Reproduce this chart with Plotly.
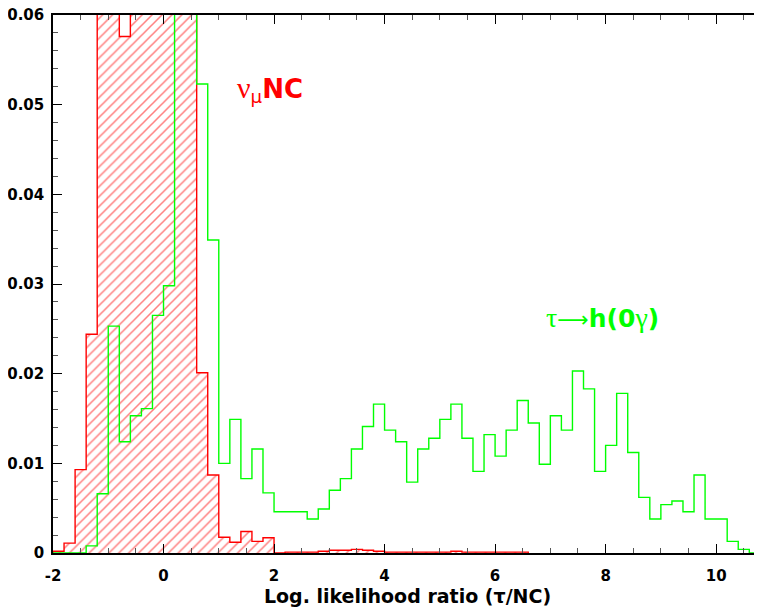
import numpy as np
import plotly.graph_objects as go

# ---- data (bin width 0.2, first bin starts at -2.0) ----
BIN_START = -2.0
BIN_WIDTH = 0.2

nc_values = [
    0.0002, 0.0011, 0.0093, 0.0244, 0.078, 0.096, 0.0576, 0.108, 0.125, 0.134,
    0.118, 0.101, 0.083, 0.0201, 0.0087, 0.00175, 0.0012, 0.0024, 0.0013, 0.0017,
    0.0000, 0.0001, 0.0001, 0.0001, 0.0002, 0.0003, 0.0003, 0.0004, 0.0003, 0.0002,
    0.0001, 0.0001, 0.0001, 0.0001, 0.0001, 0.0001, 0.0002, 0.0001, 0.0001, 0.0001,
    0.0001, 0.0001, 0.0001,
]

tau_values = [
    0.0, 0.0, 0.0, 0.0008, 0.0066, 0.0253, 0.0124, 0.0153, 0.0161, 0.0265,
    0.0298, 0.088, 0.075, 0.0523, 0.0349, 0.0100, 0.0149, 0.0083, 0.0116, 0.0067,
    0.0046, 0.0046, 0.0046, 0.0038, 0.0049, 0.0070, 0.0083, 0.0116, 0.0141, 0.0166,
    0.0137, 0.0124, 0.0079, 0.0116, 0.0128, 0.0149, 0.0166, 0.0128, 0.0091, 0.0132,
    0.0108, 0.0137, 0.0170, 0.0145, 0.0099, 0.0153, 0.0137, 0.0203, 0.0183, 0.0091,
    0.0120, 0.0178, 0.0112, 0.0062, 0.0038, 0.0054, 0.0058, 0.0046, 0.0087, 0.0038,
    0.0038, 0.0013, 0.0004, 0.0,
]

x_ticks = [-2, 0, 2, 4, 6, 8, 10]
y_ticks = [0, 0.01, 0.02, 0.03, 0.04, 0.05, 0.06]
y_tick_labels = ["0", "0.01", "0.02", "0.03", "0.04", "0.05", "0.06"]

RED = "#ff0000"
GREEN = "#00ff00"
FONT = "DejaVu Sans"
SERIF = "font-family:Liberation Serif;font-weight:normal"


def step_xy(vals):
    e = BIN_START + BIN_WIDTH * np.arange(len(vals) + 1)
    xs = [e[0]] + list(e[:-1]) + [e[-1], e[-1]]
    ys = [0.0] + list(vals) + [vals[-1], 0.0]
    return xs, ys


fig = go.Figure()

nx, ny = step_xy(nc_values)
fig.add_trace(go.Scatter(
    x=nx, y=ny, mode="lines", line=dict(color=RED, width=1.4, shape="hv"),
    fill="toself", fillcolor="white",
    fillpattern=dict(shape="/", fgcolor=RED, bgcolor="white", size=7, solidity=0.22),
    showlegend=False, hoverinfo="skip",
))

tx, ty = step_xy(tau_values)
fig.add_trace(go.Scatter(x=tx, y=ty, mode="lines", line=dict(color=GREEN, width=1.4, shape="hv"),
                         showlegend=False, hoverinfo="skip"))

fig.add_annotation(
    x=1.3, y=0.0517, xref="x", yref="y", xanchor="left", yanchor="middle",
    text=f"<span style='{SERIF};font-size:30px'>ν</span><sub>μ</sub><b>NC</b>",
    showarrow=False, font=dict(family=FONT, size=26, color=RED),
)
fig.add_annotation(
    x=6.88, y=0.0263, xref="x", yref="y", xanchor="left", yanchor="middle",
    text=(f"<span style='{SERIF};font-size:28px'>τ</span>"
          "<span style='font-family:DejaVu Sans;font-weight:normal;font-size:22px'>⟶</span>"
          f"<b>h(0</b><span style='{SERIF};font-size:28px'>γ</span><b>)</b>"),
    showarrow=False, font=dict(family=FONT, size=25, color=GREEN),
)

# page body has an 8px margin: size the figure so the plot area lands where the reference has it
fig.update_layout(
    width=754, height=601,
    margin=dict(l=45, r=0, t=7, b=56),
    paper_bgcolor="white", plot_bgcolor="white",
    font=dict(family=FONT, color="black"),
    showlegend=False,
)

fig.update_xaxes(
    range=[-2, 10.83], tickvals=x_ticks, ticktext=[f"<b>{v}</b>" for v in x_ticks],
    ticks="inside", ticklen=9, tickwidth=1.3, tickcolor="black",
    minor=dict(dtick=0.5, tick0=0, ticks="inside", ticklen=5, tickcolor="#555", tickwidth=1),
    showline=True, linecolor="black", linewidth=1.5, mirror="ticks",
    showgrid=False, zeroline=False, automargin=False, ticklabeloverflow="allow",
    tickfont=dict(family=FONT, size=15, color="black"),
    ticklabelstandoff=8,
    title=dict(text="<b>Log. likelihood ratio (τ/NC)</b>", font=dict(family=FONT, size=19, color="black"), standoff=0),
)
fig.update_yaxes(
    range=[0, 0.06], tickvals=y_ticks, ticktext=[f"<b>{t}</b>" for t in y_tick_labels],
    ticks="inside", ticklen=9, tickwidth=1.3, tickcolor="black",
    minor=dict(dtick=0.002, tick0=0, ticks="inside", ticklen=5, tickcolor="#555", tickwidth=1),
    showline=True, linecolor="black", linewidth=1.5, mirror=False,
    showgrid=False, zeroline=False, automargin=False, ticklabeloverflow="allow",
    tickfont=dict(family=FONT, size=15, color="black"),
    ticklabelstandoff=4,
)

fig.write_html("out.html")
